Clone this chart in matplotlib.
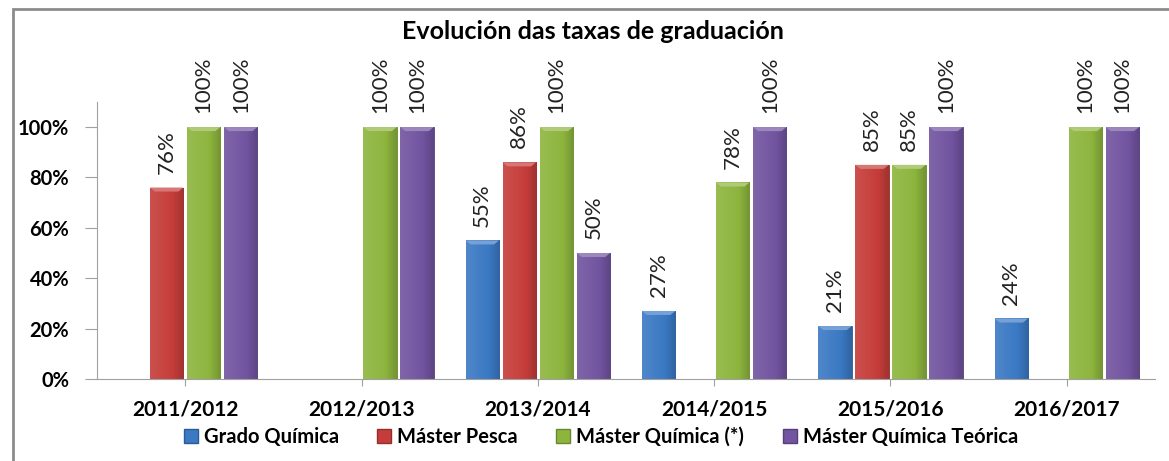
import numpy as np
import matplotlib
matplotlib.use("Agg")
import matplotlib.pyplot as plt
from matplotlib.colors import LinearSegmentedColormap, to_rgb
from matplotlib.patches import Rectangle, Polygon, Patch

plt.rcParams['font.family'] = ['Lato', 'DejaVu Sans']

cursos = ['2011/2012', '2012/2013', '2013/2014', '2014/2015', '2015/2016', '2016/2017']
series = ['Grado Química', 'Máster Pesca', 'Máster Química (*)', 'Máster Química Teórica']
grado = [np.nan, np.nan, 55, 27, 21, 24]
pesca = [76, np.nan, 86, np.nan, 85, np.nan]
quimica = [100, 100, 100, 78, 85, 100]
teorica = [100, 100, 50, 100, 100, 100]
valores = [grado, pesca, quimica, teorica]
cores = ['#3b79c4', '#c53d3a', '#8db53e', '#7254a0']

fig = plt.figure(figsize=(11.69, 4.61), dpi=100)
ax = fig.add_axes([0.083, 0.178, 0.905, 0.601])

# marco do gráfico
fig.patches.append(Rectangle((0.0115, -0.1), 1.2, 1.08, transform=fig.transFigure,
                             fill=False, edgecolor='#8c8c8c', linewidth=2))

x = np.arange(len(cursos))
step = 0.21
width = 0.19


def shade(c, f):
    r = np.array(to_rgb(c))
    if f >= 0:
        return tuple(r + (1 - r) * f)
    return tuple(r * (1 + f))


for i, (vals, cor) in enumerate(zip(valores, cores)):
    pos = x + (i - 1.5) * step
    bars = ax.bar(pos, np.nan_to_num(vals), width, color=cor,
                  edgecolor=shade(cor, -0.25), linewidth=0.6, zorder=2)
    cmap = LinearSegmentedColormap.from_list('g', [shade(cor, 0.1), shade(cor, 0.05),
                                                   cor, shade(cor, -0.18)])
    grad = np.linspace(0, 1, 64).reshape(1, -1)
    for b, v in zip(bars, vals):
        if np.isnan(v):
            b.set_visible(False)
            continue
        x0, w, h = b.get_x(), b.get_width(), b.get_height()
        im = ax.imshow(grad, cmap=cmap, aspect='auto', extent=(x0, x0 + w, 0, h),
                       zorder=2.5, interpolation='bicubic')
        im.set_clip_path(b)
        # bisel superior
        d = 1.6
        ax.add_patch(Polygon([(x0, h), (x0 + w, h), (x0 + w * 0.85, h - d), (x0 + w * 0.15, h - d)],
                             closed=True, color=shade(cor, 0.3), zorder=3, linewidth=0))
        ax.text(b.get_x() + w / 2, h + 5.5, f'{v:.0f}%', rotation=90, ha='center',
                va='bottom', fontsize=16, color='#222222')

ax.set_xlim(-0.5, len(cursos) - 0.5)
ax.set_ylim(0, 110)
ax.set_yticks(range(0, 101, 20))
ax.set_yticklabels([f'{t}%' for t in range(0, 101, 20)], fontweight='bold', fontsize=14.5)
ax.set_xticks(x)
ax.set_xticklabels(cursos, fontweight='bold', fontsize=15)
ax.tick_params(axis='y', length=9, pad=11, color='#a0a0a0')
ax.tick_params(axis='x', length=5, pad=10, color='#a0a0a0')
for s in ['top', 'right']:
    ax.spines[s].set_visible(False)
for s in ['left', 'bottom']:
    ax.spines[s].set_color('#a0a0a0')

fig.text(0.507, 0.932, 'Evolución das taxas de graduación', ha='center', va='center',
         fontsize=18, fontweight='bold')

handles = [Patch(facecolor=c, edgecolor=shade(c, -0.25)) for c in cores]
fig.legend(handles, series, loc='center', bbox_to_anchor=(0.514, 0.052), ncol=4,
           frameon=False, prop={'weight': 'bold', 'size': 14.5}, handlelength=0.7,
           handleheight=0.7, handletextpad=0.3, columnspacing=1.9)

fig.savefig('out.png', dpi=100)
